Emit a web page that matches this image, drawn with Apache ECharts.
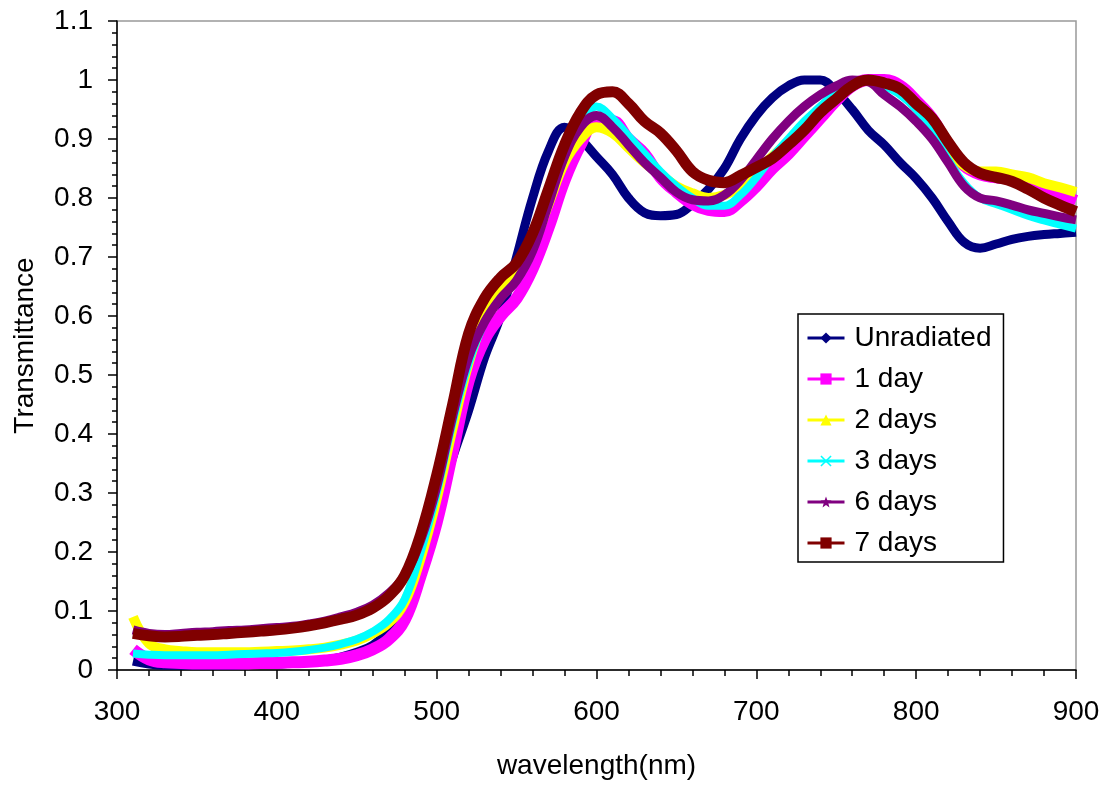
<!DOCTYPE html>
<html>
<head>
<meta charset="utf-8">
<script src="https://cdn.jsdelivr.net/npm/echarts@6/dist/echarts.min.js"></script>
<style>
  html, body { margin: 0; padding: 0; background: #fff; }
  #chart { width: 1106px; height: 785px; }
</style>
</head>
<body>
<div id="chart"></div>
<script>
// wavelength (nm), 10 nm steps
var wavelength = [310,320,330,340,350,360,370,380,390,400,410,420,430,440,450,460,470,480,490,500,
  510,520,530,540,550,560,570,580,590,600,610,620,630,640,650,660,670,680,690,700,
  710,720,730,740,750,760,770,780,790,800,810,820,830,840,850,860,870,880,890,900];

var seriesNames = ['Unradiated', '1 day', '2 days', '3 days', '6 days', '7 days'];

var unradiated = [0.015,0.01,0.008,0.008,0.008,0.008,0.008,0.009,0.01,0.01,0.012,0.014,0.017,0.022,0.03,0.042,0.065,0.1,0.16,0.27,
  0.36,0.44,0.53,0.6,0.7,0.8,0.88,0.92,0.9,0.87,0.84,0.8,0.775,0.77,0.772,0.79,0.815,0.85,0.9,0.94,
  0.97,0.99,1.0,1.0,0.98,0.95,0.915,0.89,0.86,0.833,0.8,0.76,0.725,0.715,0.722,0.73,0.735,0.738,0.74,0.742];

var day1 = [0.035,0.018,0.013,0.012,0.011,0.011,0.011,0.011,0.012,0.012,0.013,0.014,0.016,0.019,0.025,0.035,0.052,0.085,0.16,0.25,
  0.37,0.49,0.56,0.6,0.63,0.68,0.75,0.83,0.89,0.93,0.93,0.9,0.875,0.835,0.81,0.79,0.78,0.778,0.795,0.82,
  0.85,0.875,0.905,0.935,0.965,0.99,1.0,1.0,0.99,0.965,0.935,0.89,0.855,0.84,0.835,0.832,0.825,0.815,0.805,0.795];

var day2 = [0.09,0.045,0.035,0.032,0.03,0.03,0.03,0.03,0.031,0.032,0.033,0.035,0.038,0.043,0.05,0.062,0.08,0.115,0.19,0.29,
  0.41,0.52,0.6,0.65,0.68,0.72,0.79,0.86,0.9,0.92,0.91,0.885,0.86,0.84,0.82,0.808,0.8,0.805,0.82,0.845,
  0.87,0.895,0.92,0.945,0.97,0.99,1.0,0.995,0.985,0.96,0.925,0.885,0.855,0.845,0.845,0.84,0.835,0.825,0.818,0.81];

var day3 = [0.028,0.026,0.025,0.025,0.025,0.025,0.026,0.027,0.028,0.029,0.031,0.034,0.038,0.044,0.052,0.065,0.085,0.12,0.2,0.3,
  0.42,0.52,0.59,0.63,0.66,0.71,0.79,0.87,0.93,0.955,0.935,0.905,0.875,0.845,0.82,0.8,0.787,0.787,0.805,0.835,
  0.87,0.9,0.93,0.955,0.98,0.995,1.0,0.99,0.975,0.95,0.91,0.865,0.825,0.8,0.79,0.78,0.77,0.762,0.755,0.748];

var day6 = [0.068,0.062,0.06,0.062,0.064,0.065,0.067,0.068,0.07,0.072,0.074,0.078,0.083,0.09,0.098,0.11,0.13,0.16,0.22,0.31,
  0.43,0.53,0.59,0.63,0.66,0.71,0.79,0.87,0.92,0.94,0.92,0.89,0.86,0.835,0.81,0.797,0.795,0.805,0.83,0.865,
  0.9,0.93,0.955,0.975,0.99,1.0,0.997,0.975,0.955,0.93,0.9,0.86,0.82,0.8,0.795,0.788,0.78,0.774,0.768,0.763];

var day7 = [0.062,0.058,0.056,0.057,0.059,0.06,0.062,0.064,0.066,0.068,0.071,0.075,0.08,0.086,0.093,0.105,0.125,0.16,0.23,0.33,
  0.45,0.57,0.63,0.665,0.69,0.74,0.815,0.89,0.945,0.975,0.98,0.96,0.93,0.91,0.88,0.845,0.83,0.826,0.838,0.852,
  0.867,0.89,0.915,0.945,0.968,0.99,1.0,0.995,0.985,0.96,0.935,0.895,0.86,0.842,0.835,0.828,0.815,0.8,0.788,0.777];

var colors = ['#000080', '#FF00FF', '#FFFF00', '#00FFFF', '#800080', '#800000'];
var widths = [9, 12, 10, 8, 9, 11];
var symbols = [
  'diamond',
  'rect',
  'triangle',
  'path://M0,1L1,0L5,4L9,0L10,1L6,5L10,9L9,10L5,6L1,10L0,9L4,5Z',
  'path://M5,0L6.2,3.5L10,3.6L7,6L8.1,10L5,7.6L1.9,10L3,6L0,3.6L3.8,3.5Z',
  'rect'
];
var values = [unradiated, day1, day2, day3, day6, day7];

function pairs(arr) {
  var out = [];
  for (var i = 0; i < wavelength.length; i++) {
    out.push([wavelength[i], arr[i]]);
  }
  return out;
}

var series = [];
for (var i = 0; i < seriesNames.length; i++) {
  series.push({
    name: seriesNames[i],
    type: 'line',
    data: pairs(values[i]),
    smooth: 0.4,
    symbol: symbols[i],
    symbolSize: 10,
    showSymbol: false,
    color: colors[i],
    lineStyle: { width: widths[i], color: colors[i] },
    z: 2 + i
  });
}

var font = 'Liberation Sans, Arial, sans-serif';
var myChart = echarts.init(document.getElementById('chart'));
var option = {
  animation: false,
  backgroundColor: '#fff',
  grid: {
    left: 117, right: 30, top: 21, bottom: 112,
    show: true, borderColor: '#999', borderWidth: 1.5
  },
  legend: {
    orient: 'vertical',
    left: 798, top: 314,
    padding: [10, 12, 5, 8],
    itemWidth: 37, itemHeight: 14, itemGap: 13,
    borderColor: '#000', borderWidth: 1.5,
    backgroundColor: '#fff',
    lineStyle: { width: 3 },
    textStyle: { fontFamily: font, fontSize: 28, color: '#000', padding: [0, 0, 0, 5] },
    data: seriesNames
  },
  xAxis: {
    type: 'value',
    min: 300, max: 900, interval: 100,
    name: 'wavelength(nm)',
    nameLocation: 'middle',
    nameGap: 82,
    nameTextStyle: { fontFamily: font, fontSize: 28, color: '#000' },
    axisLine: { lineStyle: { color: '#000', width: 1.5 } },
    axisTick: { show: true, length: 9, lineStyle: { color: '#000', width: 1.5 } },
    minorTick: { show: true, splitNumber: 5, length: 6, lineStyle: { color: '#000', width: 1.5 } },
    axisLabel: { fontFamily: font, fontSize: 28, color: '#000', margin: 28 },
    splitLine: { show: false }
  },
  yAxis: {
    type: 'value',
    min: 0, max: 1.1, interval: 0.1,
    name: 'Transmittance',
    nameLocation: 'middle',
    nameGap: 78,
    nameTextStyle: { fontFamily: font, fontSize: 28, color: '#000' },
    axisLine: { show: true, lineStyle: { color: '#000', width: 1.5 } },
    axisTick: { show: true, length: 9, lineStyle: { color: '#000', width: 1.5 } },
    minorTick: { show: true, splitNumber: 5, length: 5, lineStyle: { color: '#000', width: 1.5 } },
    axisLabel: {
      fontFamily: font, fontSize: 28, color: '#000', margin: 24,
      formatter: function (v) { return String(+v.toFixed(1)); }
    },
    splitLine: { show: false }
  },
  series: series
};
myChart.setOption(option);
</script>
</body>
</html>
